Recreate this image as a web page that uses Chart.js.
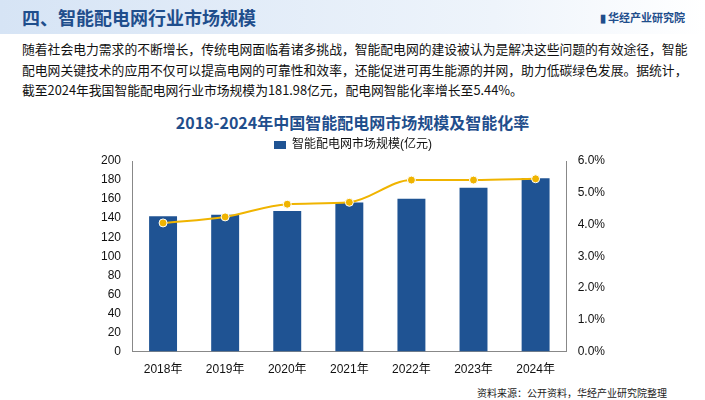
<!DOCTYPE html>
<html>
<head>
<meta charset="utf-8">
<script src="https://cdn.jsdelivr.net/npm/chart.js@4.4.0/dist/chart.umd.min.js"></script>
<style>
  body { margin: 0; width: 705px; height: 400px; background: #fff; font-family: "Noto Sans CJK SC", sans-serif; overflow: hidden; position: relative; }
  .header { position: absolute; left: 0; top: 0; width: 705px; height: 34px; background: linear-gradient(90deg, #d6e4f5, #eef4fb 70%, #fff); }
  .header .title { position: absolute; left: 22px; top: 4px; font-size: 18px; font-weight: bold; color: #1f4e8c; }
  .header .logo { position: absolute; right: 20px; top: 9px; font-size: 11px; font-weight: bold; color: #1f4e8c; }
  .para { position: absolute; left: 22px; top: 39px; width: 680px; font-size: 12.8px; line-height: 20.5px; color: #111; white-space: nowrap; }
  .ctitle { position: absolute; left: 0; width: 705px; top: 110px; text-align: center; font-size: 16px; font-weight: bold; color: #1f4e8c; }
  .box { position: absolute; left: 98px; top: 137px; width: 510px; height: 243px; }
  .src { position: absolute; right: 38px; top: 385px; font-size: 10px; color: #222; }
</style>
</head>
<body>
<div class="header"><div class="title">四、智能配电网行业市场规模</div><div class="logo">▮ 华经产业研究院</div></div>
<div class="para">随着社会电力需求的不断增长，传统电网面临着诸多挑战，智能配电网的建设被认为是解决这些问题的有效途径，智能<br>配电网关键技术的应用不仅可以提高电网的可靠性和效率，还能促进可再生能源的并网，助力低碳绿色发展。据统计，<br>截至2024年我国智能配电网行业市场规模为181.98亿元，配电网智能化率增长至5.44%。</div>
<div class="ctitle">2018-2024年中国智能配电网市场规模及智能化率</div>
<div class="box"><canvas id="chart"></canvas></div>
<div class="src">资料来源：公开资料，华经产业研究院整理</div>
<script>
const years = ['2018年', '2019年', '2020年', '2021年', '2022年', '2023年', '2024年'];
const marketSize = [142, 143.5, 147.5, 156.5, 160.5, 172, 181.98];
const smartRate = [4.05, 4.24, 4.64, 4.70, 5.40, 5.40, 5.44];
const tickFont = { size: 12, family: 'Liberation Sans, Noto Sans CJK SC' };

new Chart(document.getElementById('chart'), {
    data: {
        labels: years,
        datasets: [
            {
                type: 'line',
                label: '配电网智能化率',
                data: smartRate,
                yAxisID: 'y1',
                borderColor: '#f0b400',
                backgroundColor: '#f0b400',
                borderWidth: 2,
                pointRadius: 4,
                pointBorderColor: '#fff',
                pointBorderWidth: 1,
                cubicInterpolationMode: 'monotone',
            },
            {
                type: 'bar',
                label: '智能配电网市场规模(亿元)',
                data: marketSize,
                yAxisID: 'y',
                backgroundColor: '#1f5393',
                categoryPercentage: 1.0,
                barPercentage: 0.45,
            }
        ]
    },
    options: {
        responsive: true,
        maintainAspectRatio: false,
        animation: false,
        plugins: {
            legend: {
                labels: {
                    filter: item => item.datasetIndex === 1,
                    boxWidth: 12, boxHeight: 8,
                    color: '#111',
                    font: tickFont,
                    padding: 2,
                }
            },
            tooltip: { enabled: false }
        },
        scales: {
            x: {
                grid: { display: false },
                border: { color: '#888' },
                ticks: { color: '#111', font: tickFont }
            },
            y: {
                min: 0, max: 200,
                ticks: { stepSize: 20, color: '#111', font: tickFont },
                grid: { display: false },
                border: { color: '#888' }
            },
            y1: {
                position: 'right',
                min: 0, max: 6,
                ticks: { stepSize: 1, color: '#111', font: tickFont, callback: v => v.toFixed(1) + '%' },
                grid: { display: false },
                border: { color: '#888' }
            }
        }
    }
});
</script>
</body>
</html>
